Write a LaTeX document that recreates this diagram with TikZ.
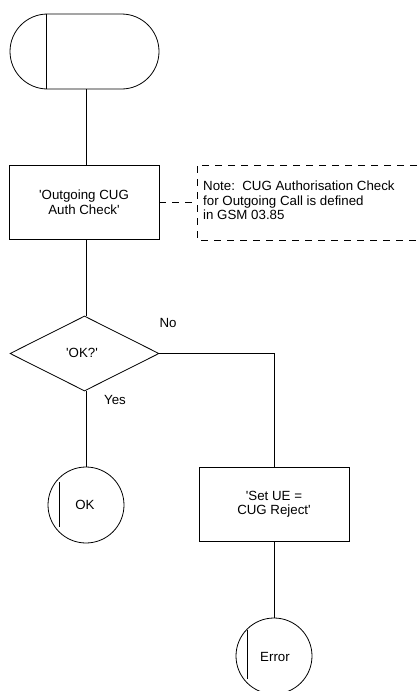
\documentclass[tikz,border=0pt]{standalone}
\usepackage{fontspec}
\setmainfont{Liberation Sans}
\usetikzlibrary{shapes.geometric}
\newcommand{\sq}{\textquotesingle}
\begin{document}
\begin{tikzpicture}[x=1pt,y=-1pt,
  every node/.style={font=\fontsize{13.3}{14.5}\selectfont},
  ln/.style={line width=0.8pt,black},
  taskbox/.style={draw,ln,rectangle,minimum width=150pt,minimum height=74pt,align=center,inner sep=0pt},
  termbox/.style={draw,ln,rectangle,rounded corners=37.5pt,minimum width=149pt,minimum height=75pt,inner sep=0pt},
  decision/.style={draw,ln,diamond,minimum width=149pt,minimum height=75pt,inner sep=0pt},
  conn/.style={draw,ln,circle,minimum size=76pt,inner sep=0pt},
  notedash/.style={ln,dash pattern=on 7pt off 6pt},
  lbl/.style={inner sep=0pt}]
\useasboundingbox (0,0) rectangle (418,691);

% start terminator
\node[termbox] (start) at (84.5,51.5) {};
\draw[ln] ([xshift=37pt]start.north west) -- ([xshift=37pt]start.south west);

% task box
\node[taskbox] (auth) at (84,202) {\sq Outgoing CUG\\Auth Check\sq};

% comment
\coordinate (ntl) at (197,165);
\coordinate (nbl) at (197,240);
\coordinate (nlink) at (197,202);
\draw[notedash] (430,165) -- (ntl) -- (nbl) -- (430,240);
\draw[notedash] (auth.east) -- (nlink);
\node[lbl,anchor=north west,align=left] (note) at (203,181) {Note:\ \ CUG Authorisation Check\\for Outgoing Call is defined\\in GSM 03.85};

% decision
\node[decision] (ok) at (84.5,353.5) {};
\node[lbl] (oktxt) at (82,353) {\sq OK?\sq};
\node[lbl] (no) at (168,323) {No};
\node[lbl] (yes) at (115,400) {Yes};

% OK connector
\node[conn] (okc) at (86,505) {};
\node[lbl] (oklbl) at (85,505) {OK};
\draw[ln] (59,482) -- (59,527);

% Set UE box
\node[taskbox] (setue) at (274,504) {\sq Set UE =\\CUG Reject\sq};

% Error connector
\node[conn] (err) at (274,656) {};
\node[lbl] (errlbl) at (275,657) {Error};
\draw[ln] (247,630) -- (247,679);

% flow lines
\draw[ln] (start.south -| 86,0) -- (auth.north -| 86,0);
\draw[ln] (auth.south -| 86,0) -- (ok.north -| 86,0);
\draw[ln] (ok.south -| 86,0) -- (okc.north);
\draw[ln] (ok.east) -| (setue.north);
\draw[ln] (setue.south) -- (err.north);
\end{tikzpicture}
\end{document}
